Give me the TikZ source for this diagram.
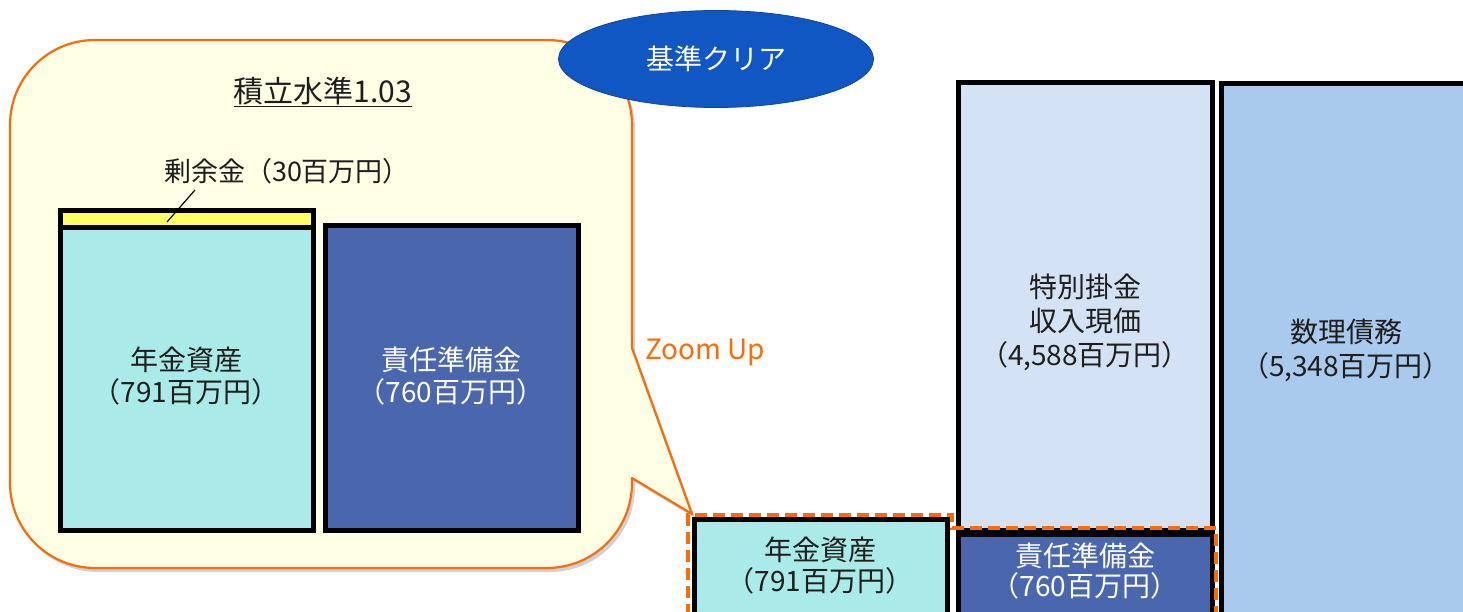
\documentclass[tikz,border=0pt]{standalone}
\usepackage{fontspec}
\setmainfont{Noto Sans CJK JP}
\usetikzlibrary{shapes.geometric}
\definecolor{cgreen}{RGB}{170,234,232}
\definecolor{cdark}{RGB}{74,102,173}
\definecolor{clight}{RGB}{211,227,245}
\definecolor{cmid}{RGB}{169,202,236}
\definecolor{cyel}{RGB}{255,255,102}
\definecolor{corange}{RGB}{250,108,10}
\definecolor{ccall}{RGB}{255,255,230}
\definecolor{cellipse}{RGB}{17,87,196}
\definecolor{ctext}{RGB}{30,30,30}
\tikzset{
  bar/.style={draw=black, line width=5pt, inner sep=0pt, outer sep=0pt},
  txt/.style={align=center, inner sep=0pt, text=ctext, font=\fontsize{28pt}{32pt}\selectfont},
  wtxt/.style={txt, text=white},
}
\begin{document}
\begin{tikzpicture}[x=1pt,y=1pt]
\useasboundingbox (0,0) rectangle (1463,611);
\clip (0,0) rectangle (1463,611);
% callout shadow
\fill[black!18, shift={(3,-4)}]
  (10,486) arc[start angle=180,end angle=90,radius=85] -- (547,571)
  arc[start angle=90,end angle=0,radius=85] -- (632,263) -- (692,97) -- (632,133)
  -- (632,128) arc[start angle=0,end angle=-90,radius=85] -- (95,43)
  arc[start angle=270,end angle=180,radius=85] -- cycle;
% callout
\draw[corange, fill=ccall, line width=2.2pt, line join=round]
  (10,486) arc[start angle=180,end angle=90,radius=85] -- (547,571)
  arc[start angle=90,end angle=0,radius=85] -- (632,263) -- (692,97) -- (632,133)
  -- (632,128) arc[start angle=0,end angle=-90,radius=85] -- (95,43)
  arc[start angle=270,end angle=180,radius=85] -- cycle;

% ellipse
\node[ellipse, fill=cellipse, draw=cellipse!80!black, line width=0.8pt,
  minimum width=315pt, minimum height=97pt, text=white,
  font=\fontsize{28pt}{32pt}\selectfont] (clear) at (716,552) {基準クリア};

% title
\node[txt, font=\fontsize{30pt}{32pt}\selectfont] (title) at (323,519) {\underline{積立水準1.03}};

% zoomed boxes
\node[bar, fill=cyel, minimum width=253pt, minimum height=17pt] (surbar) at (186.5,391.5) {};
\node[bar, fill=cgreen, minimum width=253pt, minimum height=302pt] (pa) at (186.5,232) {};
\node[bar, fill=cdark, minimum width=253pt, minimum height=304pt] (rr) at (451.5,233) {};
\node[txt] (patxt) at (186,235) {年金資産\\（791百万円）};
\node[wtxt] (rrtxt) at (451,235) {責任準備金\\（760百万円）};

% surplus label
\node[txt, font=\fontsize{27pt}{32pt}\selectfont] (surplus) at (287,440) {剰余金（30百万円）};
\coordinate (surpt) at (167,389);
\draw[line width=1.2pt] (195,421) -- (surpt);

% zoom up label
\node[txt, text=corange] (zoom) at (705,259) {Zoom Up};

% right side boxes
\node[bar, fill=clight, minimum width=254pt, minimum height=447pt] (tok) at (1085,304.5) {};
\node[bar, fill=cmid, minimum width=250pt, minimum height=545pt] (sur) at (1346,255) {};
\node[bar, fill=cgreen, minimum width=253pt, minimum height=110pt] (pas) at (820.5,37) {};
\node[bar, fill=cdark, minimum width=254pt, minimum height=95pt] (rrs) at (1085,29.5) {};

\node[txt, font=\fontsize{28pt}{34pt}\selectfont] (toktxt) at (1085,289) {特別掛金\\収入現価\\（4,588百万円）};
\node[txt, font=\fontsize{28pt}{34pt}\selectfont] (surtxt) at (1346,261) {数理債務\\（5,348百万円）};
\node[txt, font=\fontsize{28pt}{31pt}\selectfont] (pastxt) at (820,45) {年金資産\\（791百万円）};
\node[wtxt, font=\fontsize{28pt}{30pt}\selectfont] (rrstxt) at (1085,40) {責任準備金\\（760百万円）};

% dashed outline
\draw[corange, line width=4pt, dash pattern=on 12pt off 6pt]
  (688,-5) -- (688,96) -- (952,96) -- (952,83) -- (1216,83) -- (1216,-5);
\end{tikzpicture}
\end{document}
